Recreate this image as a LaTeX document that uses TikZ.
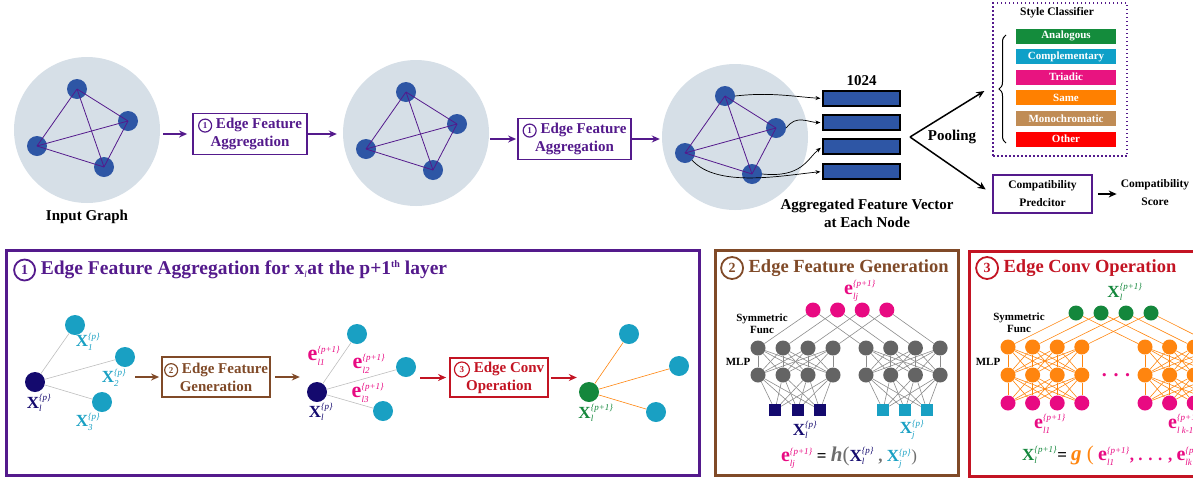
\documentclass[tikz,border=0pt]{standalone}
\usepackage{fontspec}
\usepackage{amsmath}
\setmainfont{Liberation Serif}
\usetikzlibrary{arrows.meta,positioning,decorations.pathreplacing}

\definecolor{cPur}{RGB}{84,26,140}
\definecolor{cBlue}{RGB}{46,86,165}
\definecolor{cBack}{RGB}{214,223,231}
\definecolor{cBrown}{RGB}{128,74,40}
\definecolor{cRed}{RGB}{195,20,35}
\definecolor{cNavy}{RGB}{20,10,110}
\definecolor{cCyan}{RGB}{25,160,195}
\definecolor{cMag}{RGB}{232,10,130}
\definecolor{cGreen}{RGB}{20,135,60}
\definecolor{cOrange}{RGB}{255,133,15}
\definecolor{cGray}{RGB}{100,100,100}
\definecolor{cDGray}{RGB}{110,110,110}
\definecolor{cLGray}{RGB}{190,190,190}
\definecolor{cWire}{RGB}{140,140,140}
\definecolor{cAna}{RGB}{20,140,60}
\definecolor{cComp}{RGB}{15,160,200}
\definecolor{cTri}{RGB}{232,20,128}
\definecolor{cSame}{RGB}{255,128,0}
\definecolor{cMono}{RGB}{192,140,85}
\definecolor{cOth}{RGB}{255,0,0}

\newcommand{\scrfont}{\fontsize{9}{9}\selectfont\mdseries\itshape}
\newcommand{\lab}[4]{{\fontsize{#1}{#1}\selectfont$\textbf{#2}_{\text{\scrfont #3}}^{\text{\scrfont #4}}$}}
\newcommand{\cnum}[4]{\tikz[baseline=(cn.base)]\node[circle,draw,line width=#3,minimum size=#2,inner sep=0pt,font=\bfseries\fontsize{#4}{#4}\selectfont] (cn) {#1};}

\begin{document}
\begin{tikzpicture}[x=1pt,y=-1pt,
	txt/.style={font=\bfseries\fontsize{15}{18}\selectfont,align=center,inner sep=0pt},
	small/.style={font=\bfseries\fontsize{11.5}{18}\selectfont,align=center,inner sep=0pt},
	tiny/.style={font=\bfseries\fontsize{11}{12}\selectfont,align=center,inner sep=0pt},
	lbl/.style={font=\bfseries\fontsize{17}{20}\selectfont,inner sep=0pt},
	head/.style={font=\bfseries\fontsize{18.5}{22}\selectfont,anchor=west,inner sep=0pt},
	disc/.style={circle,fill=cBack,minimum size=146pt,inner sep=0pt},
	gnode/.style={circle,fill=cBlue,minimum size=20pt,inner sep=0pt},
	gedge/.style={cPur,line width=0.8pt},
	nb/.style={circle,fill=cCyan,minimum size=20pt,inner sep=0pt},
	nn/.style={circle,minimum size=15pt,inner sep=0pt},
	sq/.style={minimum size=12pt,inner sep=0pt},
	wire/.style={line width=0.6pt},
	opbox/.style={txt,line width=1.8pt,minimum width=#1,minimum height=41pt},
	panel/.style={line width=3pt,minimum height=225pt},
	fbar/.style={draw,fill=cBlue,line width=1.2pt,minimum width=77pt,minimum height=15pt,inner sep=0pt},
	cbar/.style={font=\bfseries\fontsize{11}{13}\selectfont,text=white,minimum width=100pt,minimum height=15pt,inner sep=0pt},
	arr/.style={line width=2pt,-{Stealth[length=8pt,width=7pt]}},
	thin arr/.style={line width=0.7pt,-{Stealth[length=5pt,width=4pt]}}
	]
	\path[use as bounding box] (0,0) rectangle (1193,480);
	\clip (0,0) rectangle (1193,480);

	\foreach \g/\cx/\cy in {1/87/130,2/416/133,3/735/137}{
		\node[disc] (c\g) at (\cx,\cy) {};
		\foreach \n/\dx/\dy in {1/-10/-41,2/41/-9,3/-50/16,4/17/37}
			\node[gnode] (g\g\n) at (\cx+\dx,\cy+\dy) {};
		\foreach \i/\j in {1/2,1/3,1/4,2/3,2/4,3/4}
			\draw[gedge] (g\g\i.center) -- (g\g\j.center);
	}
	\node[txt] (ing) at (87,217) {Input Graph};
	\node[opbox=114pt,draw=cPur,text=cPur] (agg1) at (250,134) {\cnum{1}{13pt}{1.2pt}{9} Edge Feature\\Aggregation};
	\node[opbox=113pt,draw=cPur,text=cPur] (agg2) at (574.5,139) {\cnum{1}{13pt}{1.2pt}{9} Edge Feature\\Aggregation};
	\draw[arr,cPur,shorten <=3pt,shorten >=5pt] (c1.east |- agg1.west) -- (agg1.west);
	\draw[arr,cPur,shorten >=6pt] (agg1.east) -- (c2.west |- agg1.east);
	\draw[arr,cPur,shorten <=1pt,shorten >=1pt] (c2.east |- agg2.west) -- (agg2.west);
	\draw[arr,cPur,shorten >=2pt] (agg2.east) -- (c3.west |- agg2.east);

	\foreach \i/\y in {1/98.5,2/122.5,3/146.5,4/171.5}
		\node[fbar] (v\i) at (861.5,\y) {};
	\node[txt,above=5pt of v1] (dim) {1024};
	\node[txt] (aggl) at (867,213) {Aggregated Feature Vector\\at Each Node};
	\draw[thin arr,shorten >=2pt] (g31.east) .. controls +(35,-4) and +(-30,-2) .. (v1.west);
	\draw[thin arr,shorten >=2pt] (g32.east) .. controls +(10,-14) and +(-14,0) .. (v2.west);
	\draw[thin arr,shorten >=2pt] (g34.east) .. controls +(40,4) and +(-15,12) .. (v3.west);
	\draw[thin arr,shorten >=2pt] (g33.south east) .. controls +(25,28) and +(-40,4) .. (v4.west);

	\coordinate (pool) at (910,137);
	\coordinate (brtip) at (986,90);
	\node[txt] (poolt) at (952,137) {Pooling};
	\node[draw=cPur,line width=1.5pt,dash pattern=on 1.5pt off 2.5pt,minimum width=134pt,minimum height=153pt] (sty) at (1060,79.5) {};
	\node[small] (styt) at (1057,13) {Style Classifier};
	\foreach \i/\nm/\cl in {1/Analogous/cAna,2/Complementary/cComp,3/Triadic/cTri,4/Same/cSame,5/Monochromatic/cMono,6/Other/cOth}
		\node[cbar,fill=\cl] (s\i) at (1066,{36+20.6*(\i-1)}) {\nm};
	\draw[line width=1pt,decorate,decoration={brace,amplitude=7pt}] (1006,143) -- (1006,35);
	\draw[arr,line width=1.5pt,shorten >=2pt] (pool) -- (brtip);
	\node[small,draw=cPur,line width=1.5pt,minimum width=99pt,minimum height=38pt] (comp) at (1042.5,194) {Compatibility\\Predcitor};
	\draw[arr,line width=1.5pt,shorten >=8pt] (pool) -- (comp.west);
	\node[small] (score) at (1155,193) {Compatibility\\Score};
	\draw[arr,line width=1.5pt,shorten <=5pt,shorten >=4pt] (comp.east) -- (comp.east -| score.west);

	\node[panel,draw=cPur,minimum width=693pt] (pan1) at (352.5,362.5) {};
	\node[head,text=cPur,font=\bfseries\fontsize{19.5}{24}\selectfont] (tt1) at (13,270) {\cnum{1}{21pt}{1.8pt}{14} Edge Feature Aggregation for $\textbf{x}_{\text{\scrfont l}}$at the p+1\raisebox{0.75ex}{\fontsize{10}{10}\selectfont th} layer};
	\node[nb,fill=cNavy] (a0) at (35,382) {};
	\foreach \i/\x/\y in {1/75/325,2/125/357,3/102/402}{
		\node[nb] (a\i) at (\x,\y) {};
		\draw[wire,cLGray] (a0) -- (a\i);
	}
	\node[lbl,text=cNavy] (la0) at (39,403) {\lab{17}{X}{l}{\{p\}}};
	\node[lbl,text=cCyan] (la1) at (88,342) {\lab{17}{X}{1}{\{p\}}};
	\node[lbl,text=cCyan] (la2) at (114,378) {\lab{17}{X}{2}{\{p\}}};
	\node[lbl,text=cCyan] (la3) at (88,422) {\lab{17}{X}{3}{\{p\}}};
	\node[opbox=108pt,draw=cBrown,text=cBrown,minimum height=40pt] (gen) at (216,377) {\cnum{2}{13pt}{1.2pt}{9} Edge Feature\\Generation};
	\draw[arr,cBrown,shorten >=2pt] (a2.east |- gen.west) -- (gen.west);
	\node[nb,fill=cNavy] (b0) at (317,392) {};
	\foreach \i/\x/\y in {1/357/334,2/406/367,3/383/411}{
		\node[nb] (b\i) at (\x,\y) {};
		\draw[wire,cLGray] (b0) -- (b\i);
	}
	\draw[arr,cBrown,shorten <=4pt,shorten >=7pt] (gen.east) -- (b0.west |- gen.east);
	\node[lbl,text=cMag] (lb1) at (324,356) {\lab{22}{e}{l1}{\{p+1\}}};
	\node[lbl,text=cMag] (lb2) at (369,364) {\lab{22}{e}{l2}{\{p+1\}}};
	\node[lbl,text=cMag] (lb3) at (368,393) {\lab{22}{e}{l3}{\{p+1\}}};
	\node[lbl,text=cNavy] (lb0) at (321,412) {\lab{17}{X}{l}{\{p\}}};
	\node[opbox=98pt,draw=cRed,text=cRed,minimum height=39pt] (conv) at (499,377.5) {\cnum{3}{15pt}{1.2pt}{9}\ Edge Conv\\Operation};
	\draw[arr,cRed,shorten <=4pt,shorten >=3pt] (b2.east |- conv.west) -- (conv.west);
	\node[nb,fill=cGreen] (d0) at (589,392) {};
	\foreach \i/\x/\y in {1/629/334,2/679/366,3/656/412}{
		\node[nb] (d\i) at (\x,\y) {};
		\draw[wire,cOrange] (d0) -- (d\i);
	}
	\draw[arr,cRed,shorten <=2pt,shorten >=2pt] (conv.east) -- (d0.west |- conv.east);
	\node[lbl,text=cGreen] (ld0) at (596,413) {\lab{17}{X}{l}{\{p+1\}}};

	\node[panel,draw=cBrown,minimum width=243pt] (pan2) at (836.5,362.5) {};
	\node[head,text=cBrown] (tt2) at (720,268) {\cnum{2}{22pt}{1.8pt}{14} Edge Feature Generation};
	\foreach \i in {1,...,4}{
		\node[nn,fill=cMag] (m\i) at ({813+24.6*(\i-1)},310) {};
		\node[nn,fill=cGray] (l\i) at ({758+25*(\i-1)},348) {};
		\node[nn,fill=cGray] (r\i) at ({866+24.7*(\i-1)},348) {};
		\node[nn,fill=cGray] (ll\i) at ({758+25*(\i-1)},375) {};
		\node[nn,fill=cGray] (rr\i) at ({866+24.7*(\i-1)},375) {};
	}
	\foreach \i in {1,2,3}{
		\node[sq,fill=cNavy] (ql\i) at ({775+22.5*(\i-1)},410) {};
		\node[sq,fill=cCyan] (qr\i) at ({883+22*(\i-1)},410) {};
	}
	\foreach \i in {1,...,4}{
		\draw[wire,cWire] (m\i) -- (l\i);
		\draw[wire,cWire] (m\i) -- (r\i);
		\foreach \j in {1,...,4}{
			\draw[wire,cWire] (l\i) -- (ll\j);
			\draw[wire,cWire] (r\i) -- (rr\j);
		}
		\foreach \j in {1,2,3}{
			\draw[wire,cWire] (ll\i) -- (ql\j);
			\draw[wire,cWire] (rr\i) -- (qr\j);
		}
	}
	\node[tiny] (sym2) at (762,324) {Symmetric\\Func};
	\node[tiny] (mlp2) at (738,362) {MLP};
	\node[lbl,text=cMag] (eo2) at (860,291) {\lab{20}{e}{lj}{\{p+1\}}};
	\node[lbl,text=cNavy] (xi2) at (805,430) {\lab{17}{X}{l}{\{p\}}};
	\node[lbl,text=cCyan] (xj2) at (912,430) {\lab{17}{X}{j}{\{p\}}};
	\node[lbl] (eq2) at (849,458) {{\color{cMag}\lab{20}{e}{lj}{\{p+1\}}} = {\color{cDGray}\fontsize{21}{21}\selectfont\textit{h}\textnormal{(}}{\color{cNavy}\lab{17}{X}{l}{\{p\}}} {\color{cDGray},} {\color{cCyan}\lab{17}{X}{j}{\{p\}}}{\color{cDGray}\textnormal{)}}};

	\node[panel,draw=cRed,minimum width=300pt,anchor=north west] (pan3) at (968,250) {};
	\node[head,text=cRed] (tt3) at (975,268) {\cnum{3}{22pt}{1.8pt}{14} Edge Conv Operation};
	\foreach \i in {1,...,4}{
		\node[nn,fill=cGreen] (o\i) at ({1076+25*(\i-1)},313) {};
		\foreach \s/\x in {L/1008,R/1145}{
			\node[nn,fill=cOrange] (h\s\i) at ({\x+24.6*(\i-1)},347) {};
			\node[nn,fill=cOrange] (k\s\i) at ({\x+24.6*(\i-1)},375) {};
			\node[nn,fill=cMag] (e\s\i) at ({\x+24.6*(\i-1)},403) {};
		}
	}
	\foreach \i in {1,...,4}{
		\foreach \s in {L,R}{
			\draw[wire,cOrange] (o\i) -- (h\s\i);
			\foreach \j in {1,...,4}{
				\draw[wire,cOrange] (h\s\i) -- (k\s\j);
				\draw[wire,cOrange] (k\s\i) -- (e\s\j);
			}
		}
	}
	\node[tiny] (sym3) at (1019,323) {Symmetric\\Func};
	\node[tiny] (mlp3) at (988,362) {MLP};
	\node[text=cMag,font=\bfseries\fontsize{20}{20}\selectfont,inner sep=0pt] (dots) at (1116,375) {. . .};
	\node[lbl,text=cGreen] (xo3) at (1125,292) {\lab{17}{X}{l}{\{p+1\}}};
	\node[lbl,text=cMag] (el1) at (1050,424) {\lab{20}{e}{l1}{\{p+1\}}};
	\node[lbl,text=cMag,anchor=west] (elk) at (1168,424) {\lab{20}{e}{l k-1}{\{p+1\}}};
	\node[lbl,anchor=west] (eq3) at (1022,456) {{\color{cGreen}\lab{17}{X}{l}{\{p+1\}}}= {\color{cOrange}\fontsize{21}{21}\selectfont\textit{g} \textnormal{(}} {\color{cMag}\lab{20}{e}{l1}{\{p+1\}}, . . . , \lab{20}{e}{lk}{\{p+1\}} }{\color{cOrange}\textnormal{)}}};
\end{tikzpicture}
\end{document}
